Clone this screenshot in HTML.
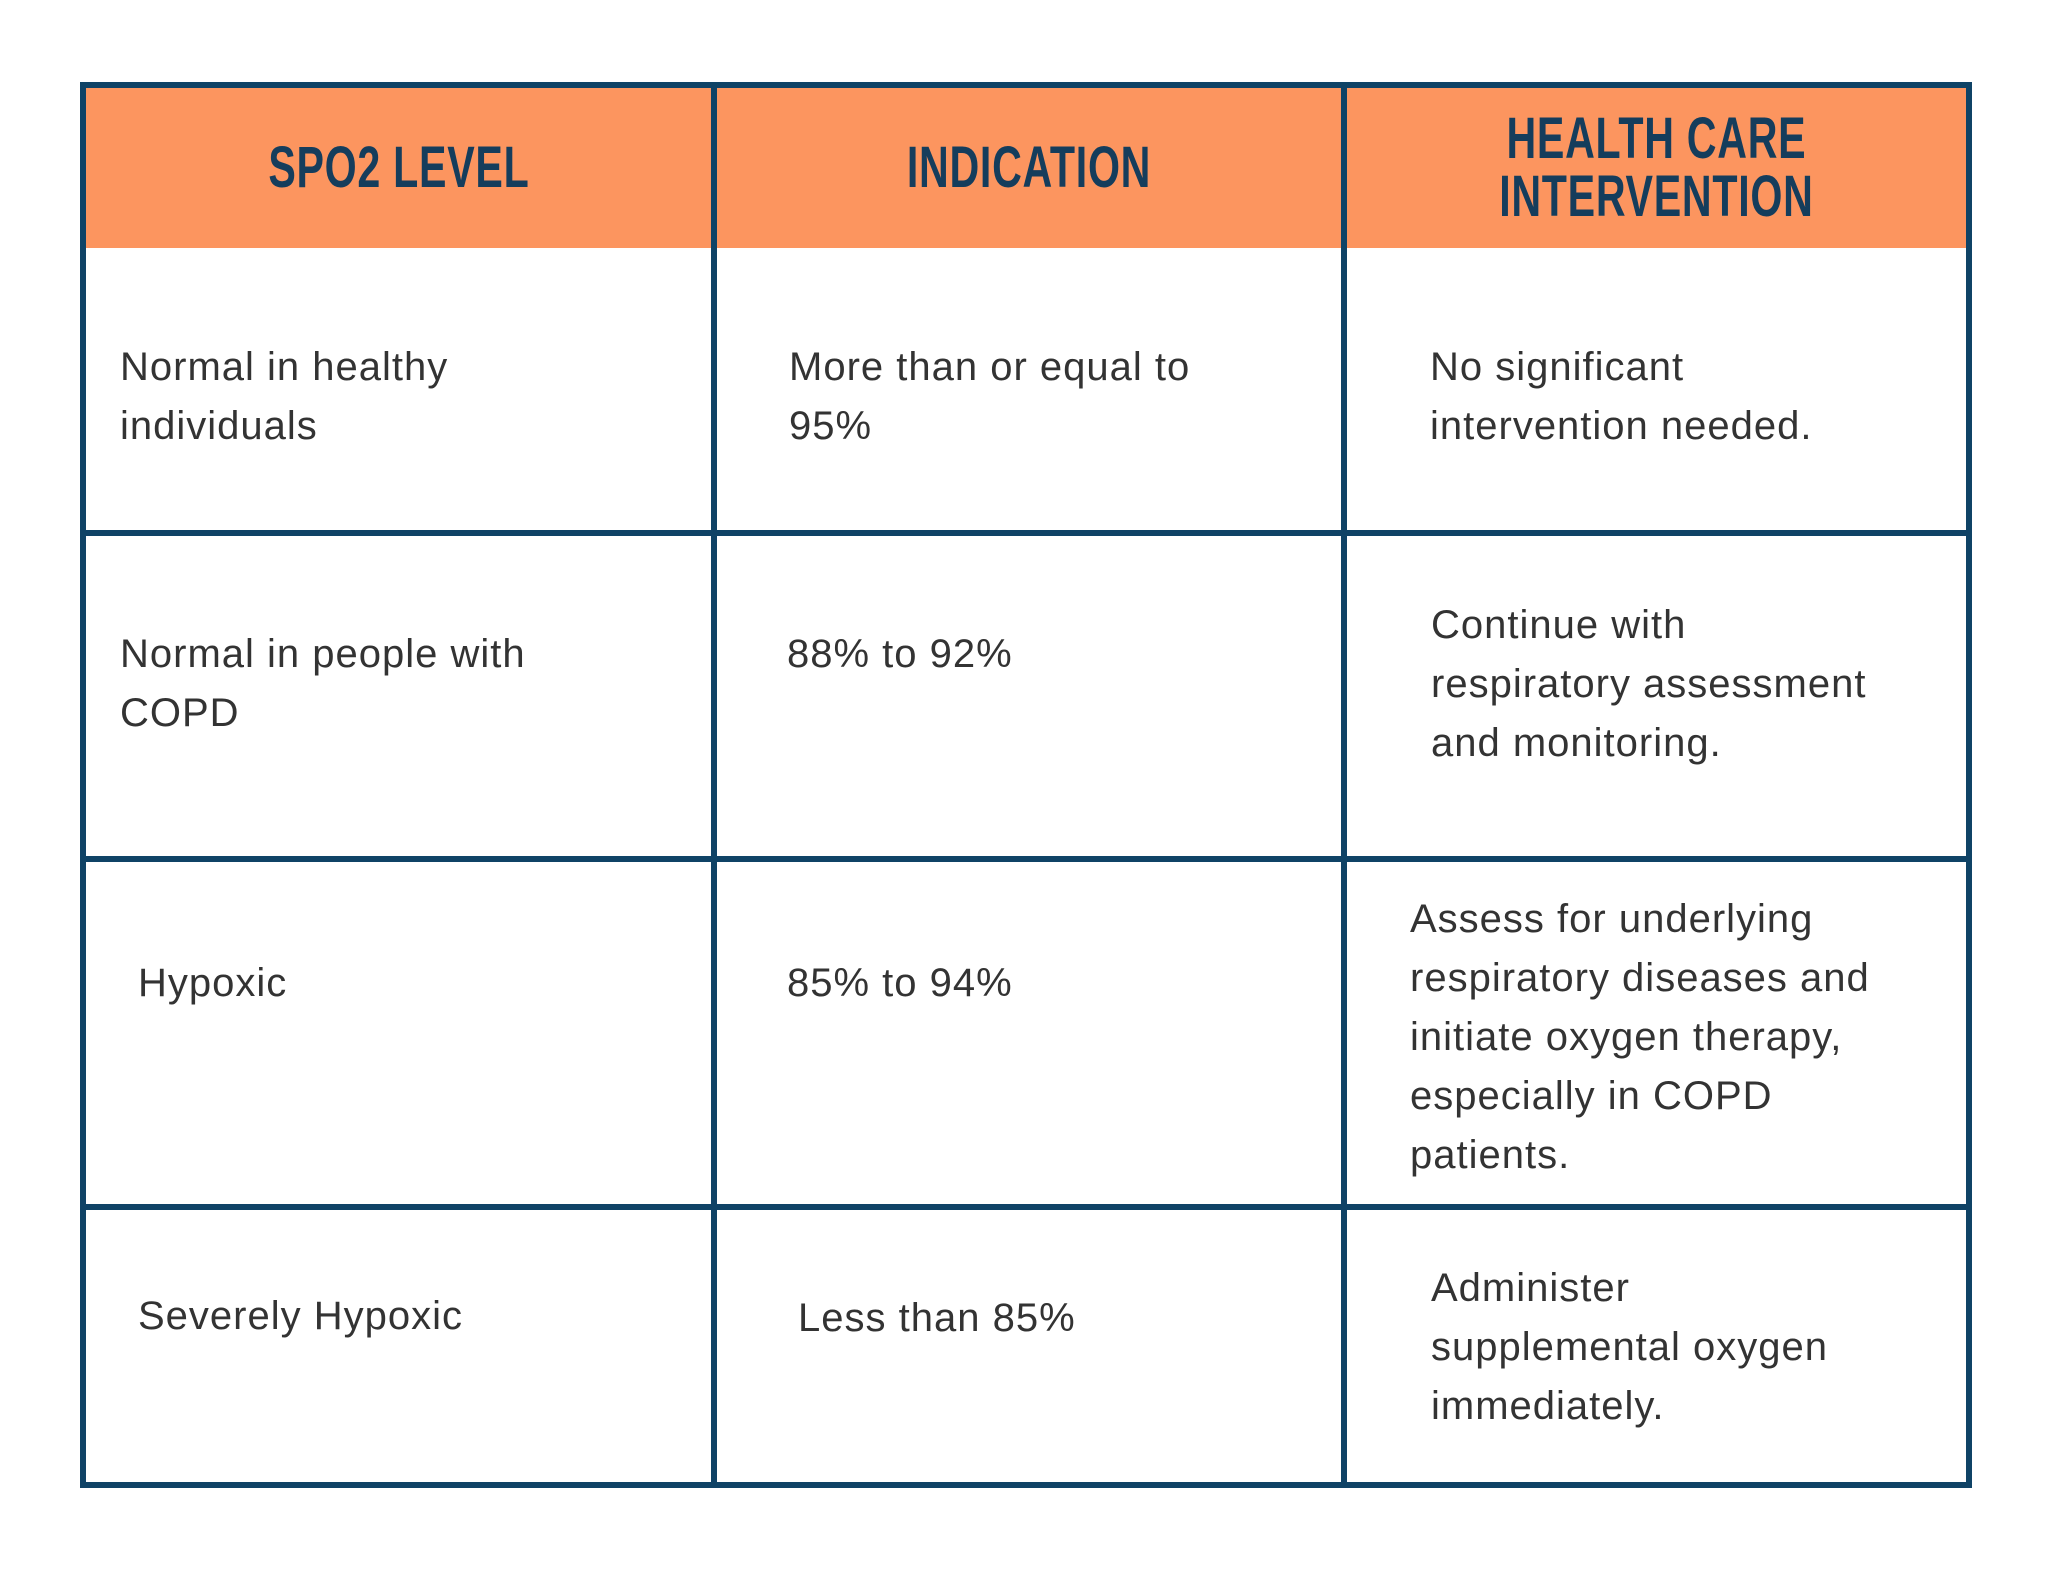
<!DOCTYPE html>
<html><head><style>
body{margin:0;width:2048px;height:1596px;background:#fff;position:relative;overflow:hidden;font-family:"Liberation Sans",sans-serif}
.b{position:absolute;background:#0f4366}
.hd{position:absolute;top:85px;height:163px;background:#fc955f}
.h{position:absolute;display:flex;align-items:center;justify-content:center;text-align:center;font-family:"Liberation Sans",sans-serif;font-weight:bold;font-size:58px;line-height:58px;color:#153d5c;letter-spacing:1px;top:88px;height:160px}
.h span{display:inline-block;transform:scaleX(0.71)}
.t{position:absolute;font-size:40px;letter-spacing:1px;line-height:59px;color:#333;white-space:nowrap}
</style></head><body>
<div class="hd" style="left:81px;width:1888px"></div>
<div class="h" style="left:84px;width:630px"><span>SPO2 LEVEL</span></div>
<div class="h" style="left:714px;width:630px"><span>INDICATION</span></div>
<div class="h" style="left:1344px;width:625px"><span>HEALTH CARE<br>INTERVENTION</span></div>
<div class="b" style="left:80px;top:82px;width:1892px;height:6px"></div>
<div class="b" style="left:80px;top:1482px;width:1892px;height:6px"></div>
<div class="b" style="left:80px;top:82px;width:6px;height:1406px"></div>
<div class="b" style="left:1966px;top:82px;width:6px;height:1406px"></div>
<div class="b" style="left:711px;top:82px;width:6px;height:1406px"></div>
<div class="b" style="left:1341px;top:82px;width:6px;height:1406px"></div>
<div class="b" style="left:80px;top:530px;width:1892px;height:6px"></div>
<div class="b" style="left:80px;top:856px;width:1892px;height:6px"></div>
<div class="b" style="left:80px;top:1204px;width:1892px;height:6px"></div>
<div class="t" style="left:120px;top:338px">Normal in healthy<br>individuals</div>
<div class="t" style="left:789px;top:338px">More than or equal to<br>95%</div>
<div class="t" style="left:1430px;top:338px">No significant<br>intervention needed.</div>
<div class="t" style="left:120px;top:625px">Normal in people with<br>COPD</div>
<div class="t" style="left:787px;top:625px">88% to 92%</div>
<div class="t" style="left:1431px;top:596px">Continue with<br>respiratory assessment<br>and monitoring.</div>
<div class="t" style="left:138px;top:954px">Hypoxic</div>
<div class="t" style="left:787px;top:954px">85% to 94%</div>
<div class="t" style="left:1410px;top:890px">Assess for underlying<br>respiratory diseases and<br>initiate oxygen therapy,<br>especially in COPD<br>patients.</div>
<div class="t" style="left:138px;top:1287px">Severely Hypoxic</div>
<div class="t" style="left:798px;top:1289px">Less than 85%</div>
<div class="t" style="left:1431px;top:1259px">Administer<br>supplemental oxygen<br>immediately.</div>
</body></html>
